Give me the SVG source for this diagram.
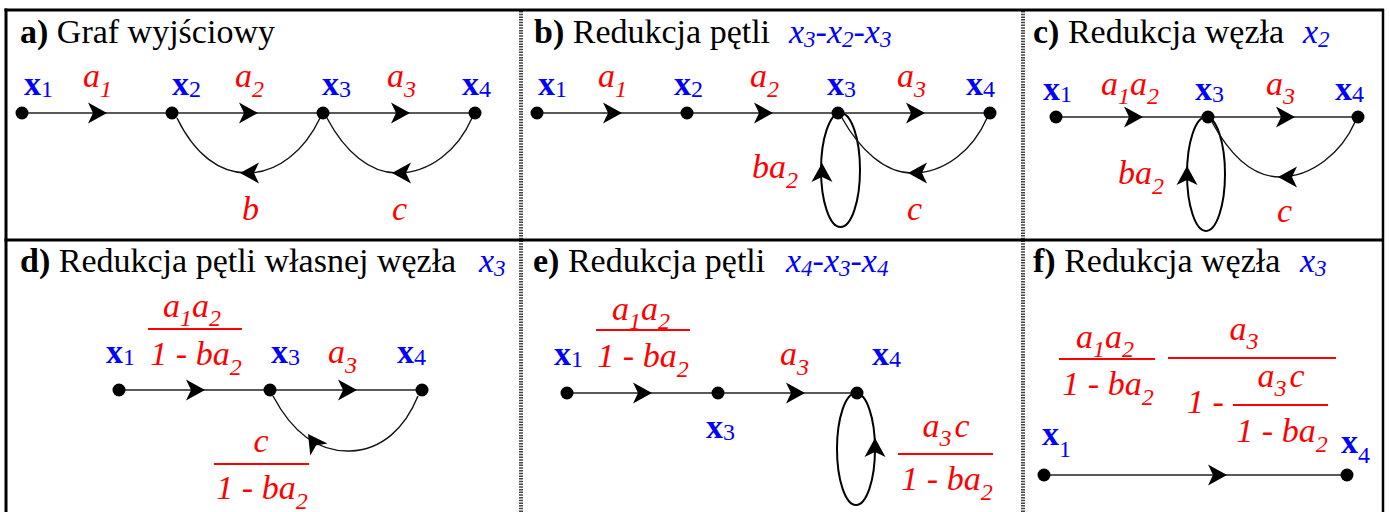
<svg xmlns="http://www.w3.org/2000/svg" xmlns:xlink="http://www.w3.org/1999/xlink" width="1390" height="512" viewBox="0 0 1390 512" font-family="'Liberation Serif', 'Times New Roman', serif">
<style>
.t,.tv,.n,.e{font-family:"Liberation Serif","Times New Roman",serif}
.t{font-size:34px;fill:#000}
.tv{font-size:34px;fill:#0000ff;font-style:italic}
.n{font-size:34px;fill:#0000ff;font-weight:bold}
.ns{font-size:24px;font-weight:normal}
.e{font-size:34px;fill:#ff0000;font-style:italic}
.es{font-size:24px}
.dot{fill:#000}
.ln{stroke:#222;stroke-width:1.6;fill:none}
.cv{stroke:#111;stroke-width:1.4;fill:none}
.lp{stroke:#000;stroke-width:2;fill:none}
.fr{stroke:#ff0000;stroke-width:2}
.bd{stroke:#000;stroke-width:3}
.dv{stroke:#444;stroke-width:4;stroke-dasharray:1.5 1.2}
</style>
<defs>
<path id="ah" d="M0 0 L-19 -10.5 L-14 0 L-19 10.5 Z" fill="#000"/>
</defs>
<rect width="1390" height="512" fill="#fff"/>
<g id="frame">
<line class="dv" x1="521" y1="11" x2="521" y2="512"/>
<line class="dv" x1="1023" y1="11" x2="1023" y2="512"/>
<line class="bd" x1="6" y1="8.5" x2="6" y2="512"/>
<line x1="1383" y1="9" x2="1383" y2="512" stroke="#000" stroke-width="2.5"/>
<line class="bd" x1="4.5" y1="10" x2="1384" y2="10"/>
<line class="bd" x1="4.5" y1="240" x2="1384" y2="240"/>
</g>
<g id="titles">
<text class="t" x="20" y="43"><tspan font-weight="bold">a)</tspan> Graf wyjściowy</text>
<text class="t" x="534" y="43"><tspan font-weight="bold">b)</tspan> Redukcja pętli</text>
<text class="tv" x="789" y="43">x<tspan font-size="23" dy="4">3</tspan><tspan dy="-4">-x</tspan><tspan font-size="23" dy="4">2</tspan><tspan dy="-4">-x</tspan><tspan font-size="23" dy="4">3</tspan></text>
<text class="t" x="1033" y="43"><tspan font-weight="bold">c)</tspan> Redukcja węzła</text>
<text class="tv" x="1303" y="43">x<tspan font-size="23" dy="4">2</tspan></text>
<text class="t" x="20" y="272"><tspan font-weight="bold">d)</tspan> Redukcja pętli własnej węzła</text>
<text class="tv" x="479" y="272">x<tspan font-size="23" dy="4">3</tspan></text>
<text class="t" x="533" y="272"><tspan font-weight="bold">e)</tspan> Redukcja pętli</text>
<text class="tv" x="786" y="272">x<tspan font-size="23" dy="4">4</tspan><tspan dy="-4">-x</tspan><tspan font-size="23" dy="4">3</tspan><tspan dy="-4">-x</tspan><tspan font-size="23" dy="4">4</tspan></text>
<text class="t" x="1033" y="272"><tspan font-weight="bold">f)</tspan> Redukcja węzła</text>
<text class="tv" x="1300" y="272">x<tspan font-size="23" dy="4">3</tspan></text>
</g>
<!-- panel a -->
<g id="connectors-a">
<line class="ln" x1="22" y1="113" x2="475" y2="113"/>
<use xlink:href="#ah" transform="translate(107 113)"/>
<use xlink:href="#ah" transform="translate(258 113)"/>
<use xlink:href="#ah" transform="translate(410 113)"/>
<path class="cv" d="M177 118 C195 155 220 173 247 173 C278 173 305 150 320 118"/>
<use xlink:href="#ah" transform="translate(240 173) rotate(180)"/>
<path class="cv" d="M327 118 C345 152 370 173 397 173 C430 173 458 150 472 118"/>
<use xlink:href="#ah" transform="translate(392 173) rotate(180)"/>
<text class="e" x="83" y="87">a<tspan class="es" dy="10">1</tspan></text>
<text class="e" x="235" y="87">a<tspan class="es" dy="10">2</tspan></text>
<text class="e" x="387" y="87">a<tspan class="es" dy="10">3</tspan></text>
<text class="e" x="242" y="220">b</text>
<text class="e" x="392" y="220">c</text>
</g>
<g id="a-x1"><circle class="dot" cx="22" cy="113" r="6.5"/><text class="n" x="24" y="95">x<tspan class="ns" dy="2">1</tspan></text></g>
<g id="a-x2"><circle class="dot" cx="172" cy="113" r="6.5"/><text class="n" x="172" y="95">x<tspan class="ns" dy="2">2</tspan></text></g>
<g id="a-x3"><circle class="dot" cx="323" cy="113" r="6.5"/><text class="n" x="322" y="95">x<tspan class="ns" dy="2">3</tspan></text></g>
<g id="a-x4"><circle class="dot" cx="475" cy="113" r="6.5"/><text class="n" x="462" y="95">x<tspan class="ns" dy="2">4</tspan></text></g>
<!-- panel b -->
<g id="connectors-b">
<line class="ln" x1="537" y1="113" x2="990" y2="113"/>
<use xlink:href="#ah" transform="translate(622 113)"/>
<use xlink:href="#ah" transform="translate(773 113)"/>
<use xlink:href="#ah" transform="translate(925 113)"/>
<ellipse class="lp" cx="840.5" cy="170" rx="19.5" ry="57"/>
<use xlink:href="#ah" transform="translate(822 163) rotate(-90)"/>
<path class="cv" d="M842 118 C860 150 885 173 912 173 C945 173 973 150 987 118"/>
<use xlink:href="#ah" transform="translate(908 173) rotate(180)"/>
<text class="e" x="598" y="87">a<tspan class="es" dy="10">1</tspan></text>
<text class="e" x="750" y="87">a<tspan class="es" dy="10">2</tspan></text>
<text class="e" x="897" y="87">a<tspan class="es" dy="10">3</tspan></text>
<text class="e" x="752" y="178">ba<tspan class="es" dy="10">2</tspan></text>
<text class="e" x="907" y="220">c</text>
</g>
<g id="b-x1"><circle class="dot" cx="537" cy="113" r="6.5"/><text class="n" x="538" y="95">x<tspan class="ns" dy="2">1</tspan></text></g>
<g id="b-x2"><circle class="dot" cx="687" cy="113" r="6.5"/><text class="n" x="674" y="95">x<tspan class="ns" dy="2">2</tspan></text></g>
<g id="b-x3"><circle class="dot" cx="838" cy="113" r="6.5"/><text class="n" x="827" y="95">x<tspan class="ns" dy="2">3</tspan></text></g>
<g id="b-x4"><circle class="dot" cx="990" cy="113" r="6.5"/><text class="n" x="966" y="95">x<tspan class="ns" dy="2">4</tspan></text></g>
<!-- panel c -->
<g id="connectors-c">
<line class="ln" x1="1056" y1="117" x2="1358" y2="117"/>
<use xlink:href="#ah" transform="translate(1143 117)"/>
<use xlink:href="#ah" transform="translate(1295 117)"/>
<ellipse class="lp" cx="1206" cy="174" rx="19" ry="57"/>
<use xlink:href="#ah" transform="translate(1187 166) rotate(-90)"/>
<path class="cv" d="M1212 122 C1230 155 1252 177 1280 177 C1312 177 1342 152 1355 122"/>
<use xlink:href="#ah" transform="translate(1278 177) rotate(180)"/>
<text class="e" x="1101" y="95">a<tspan class="es" dy="9">1</tspan><tspan dy="-9">a</tspan><tspan class="es" dy="9">2</tspan></text>
<text class="e" x="1266" y="95">a<tspan class="es" dy="9">3</tspan></text>
<text class="e" x="1118" y="184">ba<tspan class="es" dy="10">2</tspan></text>
<text class="e" x="1277" y="222">c</text>
</g>
<g id="c-x1"><circle class="dot" cx="1056" cy="117" r="6.5"/><text class="n" x="1043" y="100">x<tspan class="ns" dy="2">1</tspan></text></g>
<g id="c-x3"><circle class="dot" cx="1208" cy="117" r="6.5"/><text class="n" x="1195" y="100">x<tspan class="ns" dy="2">3</tspan></text></g>
<g id="c-x4"><circle class="dot" cx="1358" cy="117" r="6.5"/><text class="n" x="1335" y="100">x<tspan class="ns" dy="2">4</tspan></text></g>
<!-- panel d -->
<g id="connectors-d">
<line class="ln" x1="119" y1="390" x2="422" y2="390"/>
<use xlink:href="#ah" transform="translate(205 390)"/>
<use xlink:href="#ah" transform="translate(357 390)"/>
<path class="cv" d="M273 396 C290 428 315 452 350 451 C382 450 405 428 418 396"/>
<use xlink:href="#ah" transform="translate(308 434) rotate(-125)"/>
<text class="e" x="192" y="317" text-anchor="middle">a<tspan class="es" dy="9">1</tspan><tspan dy="-9">a</tspan><tspan class="es" dy="9">2</tspan></text>
<line class="fr" x1="148" y1="329" x2="242" y2="329"/>
<text class="e" x="196" y="365" text-anchor="middle">1 - ba<tspan class="es" dy="10">2</tspan></text>
<text class="e" x="328" y="363">a<tspan class="es" dy="10">3</tspan></text>
<text class="e" x="261" y="452" text-anchor="middle">c</text>
<line class="fr" x1="214" y1="464" x2="309" y2="464"/>
<text class="e" x="262" y="499" text-anchor="middle">1 - ba<tspan class="es" dy="10">2</tspan></text>
</g>
<g id="d-x1"><circle class="dot" cx="119" cy="390" r="6.5"/><text class="n" x="106" y="363">x<tspan class="ns" dy="2">1</tspan></text></g>
<g id="d-x3"><circle class="dot" cx="270" cy="390" r="6.5"/><text class="n" x="271" y="363">x<tspan class="ns" dy="2">3</tspan></text></g>
<g id="d-x4"><circle class="dot" cx="422" cy="390" r="6.5"/><text class="n" x="397" y="363">x<tspan class="ns" dy="2">4</tspan></text></g>
<!-- panel e -->
<g id="connectors-e">
<line class="ln" x1="567" y1="393" x2="857" y2="393"/>
<use xlink:href="#ah" transform="translate(652 393)"/>
<use xlink:href="#ah" transform="translate(805 393)"/>
<ellipse class="lp" cx="856" cy="449" rx="19" ry="56"/>
<use xlink:href="#ah" transform="translate(875 438) rotate(-90)"/>
<text class="e" x="641" y="320" text-anchor="middle">a<tspan class="es" dy="9">1</tspan><tspan dy="-9">a</tspan><tspan class="es" dy="9">2</tspan></text>
<line class="fr" x1="596" y1="330" x2="690" y2="330"/>
<text class="e" x="643" y="367" text-anchor="middle">1 - ba<tspan class="es" dy="10">2</tspan></text>
<text class="e" x="780" y="365">a<tspan class="es" dy="10">3</tspan></text>
<text class="e" x="946" y="437" text-anchor="middle">a<tspan class="es" dy="9">3</tspan><tspan dx="3" dy="-9">c</tspan></text>
<line class="fr" x1="898" y1="454" x2="993" y2="454"/>
<text class="e" x="947" y="490" text-anchor="middle">1 - ba<tspan class="es" dy="10">2</tspan></text>
</g>
<g id="e-x1"><circle class="dot" cx="567" cy="393" r="6.5"/><text class="n" x="554" y="365">x<tspan class="ns" dy="2">1</tspan></text></g>
<g id="e-x3"><circle class="dot" cx="718" cy="393" r="6.5"/><text class="n" x="706" y="438">x<tspan class="ns" dy="2">3</tspan></text></g>
<g id="e-x4"><circle class="dot" cx="857" cy="393" r="6.5"/><text class="n" x="872" y="365">x<tspan class="ns" dy="2">4</tspan></text></g>
<!-- panel f -->
<g id="connectors-f">
<line class="ln" x1="1044" y1="475" x2="1347" y2="475"/>
<use xlink:href="#ah" transform="translate(1227 475)"/>
<text class="e" x="1105" y="348" text-anchor="middle">a<tspan class="es" dy="9">1</tspan><tspan dy="-9">a</tspan><tspan class="es" dy="9">2</tspan></text>
<line class="fr" x1="1059" y1="359" x2="1155" y2="359"/>
<text class="e" x="1108" y="395" text-anchor="middle">1 - ba<tspan class="es" dy="10">2</tspan></text>
<text class="e" x="1244" y="340" text-anchor="middle">a<tspan class="es" dy="9">3</tspan></text>
<line class="fr" x1="1168" y1="358" x2="1336" y2="358"/>
<text class="e" x="1187" y="413">1 -</text>
<text class="e" x="1281" y="387" text-anchor="middle">a<tspan class="es" dy="9">3</tspan><tspan dx="3" dy="-9">c</tspan></text>
<line class="fr" x1="1233" y1="405" x2="1328" y2="405"/>
<text class="e" x="1282" y="442" text-anchor="middle">1 - ba<tspan class="es" dy="10">2</tspan></text>
</g>
<g id="f-x1"><circle class="dot" cx="1044" cy="475" r="6.5"/><text class="n" x="1042" y="445">x<tspan class="ns" dy="12">1</tspan></text></g>
<g id="f-x4"><circle class="dot" cx="1347" cy="475" r="6.5"/><text class="n" x="1341" y="453">x<tspan class="ns" dy="10">4</tspan></text></g>
</svg>
